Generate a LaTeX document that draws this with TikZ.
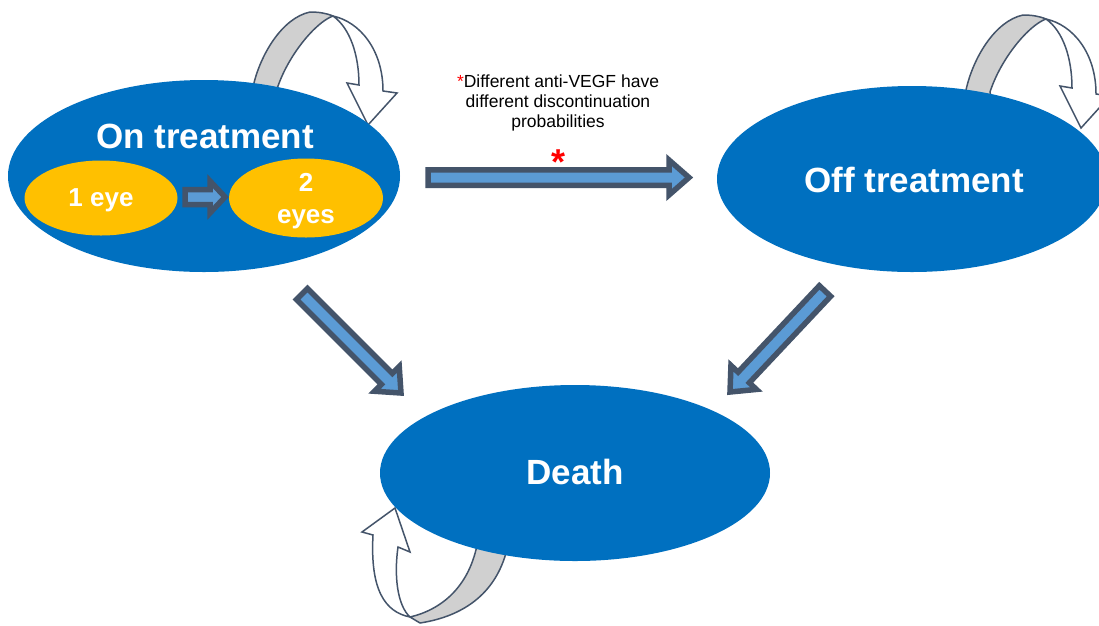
\documentclass[tikz,border=0pt]{standalone}
\usepackage{fontspec}
\setmainfont{Liberation Sans}
\usetikzlibrary{shapes.geometric,calc}
\definecolor{blu}{HTML}{0070C0}
\definecolor{yel}{HTML}{FFC000}
\definecolor{afill}{HTML}{5B9BD5}
\definecolor{aline}{HTML}{44546A}
\definecolor{bandgrey}{HTML}{D0D0D0}
% block arrow: start, tip, half shaft, half head, head length
\newcommand\blockarrow[5]{%
  \coordinate (#1-#2-h) at ($(#2)!#5!(#1)$);
  \draw[barrow] ($(#1)!#3!90:(#2)$) -- ($(#1-#2-h)!#3!90:(#2)$) -- ($(#1-#2-h)!#4!90:(#2)$)
     -- (#2) -- ($(#1-#2-h)!#4!-90:(#2)$) -- ($(#1-#2-h)!#3!-90:(#2)$) -- ($(#1)!#3!-90:(#2)$) -- cycle;}
\begin{document}
\begin{tikzpicture}[x=1pt,y=-1pt,
  blob/.style={ellipse, fill=blu, draw=none, inner sep=0pt},
  eyeblob/.style={ellipse, fill=yel, draw=none, inner sep=0pt},
  big/.style={text=white, font=\bfseries\fontsize{35}{40}\selectfont, anchor=base, inner sep=0pt},
  mid/.style={text=white, font=\bfseries\fontsize{26}{31}\selectfont, anchor=base, inner sep=0pt},
  note/.style={font=\fontsize{17.5}{20}\selectfont, anchor=base, inner sep=0pt},
  barrow/.style={fill=afill, draw=aline, line width=5.5pt, line join=miter},
  loopband/.style={fill=bandgrey, draw=aline, line width=1.5pt, line join=round},
  loopfront/.style={fill=white, draw=aline, line width=1.5pt, line join=miter},
  curloop/.pic={
    \draw[loopband] (256,105) -- (253,87) .. controls (260,55) and (282,18) .. (310,12)
       .. controls (318,12) and (326,13) .. (333,16)
       .. controls (316,22) and (288,55) .. (277,89) -- (280,105) -- cycle;
    \draw[loopfront] (333,16) .. controls (360,22) and (383,50) .. (383,91) -- (397,93)
       -- (368,125) -- (347,83) -- (359,85) .. controls (359,55) and (350,28) .. (333,16) -- cycle;
  }]
\useasboundingbox (0,0) rectangle (1099,625);
\clip (0,0) rectangle (1099,625);
\fill[white] (0,0) rectangle (1099,625);

% self loops (drawn first, ellipses cover their feet)
\pic at (0,0) {curloop};
\pic at (713,3) {curloop};
\draw[loopband] (410,617) -- (420,623) .. controls (465,616) and (498,592) .. (508,545)
   -- (478,540) .. controls (470,588) and (440,610) .. (410,617) -- cycle;
\draw[loopfront] (410,617) .. controls (385,612) and (370,590) .. (373,535) -- (362,532)
   -- (395,508) -- (410,552) -- (398,547) .. controls (394,575) and (397,605) .. (410,617) -- cycle;

% states
\node[blob, minimum width=392pt, minimum height=192pt] (on) at (204,176) {};
\node[blob, minimum width=390pt, minimum height=186pt] (off) at (912,179) {};
\node[blob, minimum width=390pt, minimum height=176pt] (death) at (575,473) {};
\node[eyeblob, minimum width=153pt, minimum height=75pt] (one) at (101,198) {};
\node[eyeblob, minimum width=154pt, minimum height=79pt] (two) at (306,198) {};

\node[big] (ontxt) at (205,148) {On treatment};
\node[big] (offtxt) at (914,192) {Off treatment};
\node[big] (deathtxt) at (575,484) {Death};
\node[mid] (onetxt) at (101,206) {1 eye};
\node[mid] (twotxt) at (306,191) {2};
\node[mid] (eyestxt) at (306,223) {eyes};

% transitions
\coordinate (sA) at (185,197); \coordinate (sB) at (225,197);
\blockarrow{sA}{sB}{7.5pt}{16pt}{15pt}
\coordinate (hA) at (428,177.5); \coordinate (hB) at (689,177.5);
\blockarrow{hA}{hB}{7.75pt}{17.5pt}{20pt}
\coordinate (dA) at (302,294); \coordinate (dB) at (401,393);
\blockarrow{dA}{dB}{7.75pt}{17.5pt}{20pt}
\coordinate (eA) at (825,291); \coordinate (eB) at (730,392);
\blockarrow{eA}{eB}{7.75pt}{17.5pt}{20pt}

% annotation
\node[note] (ann1) at (558,87) {\textcolor{red}{*}Different anti-VEGF have};
\node[note] (ann2) at (558,107) {different discontinuation};
\node[note] (ann3) at (558,127) {probabilities};
\node[text=red, font=\bfseries\fontsize{36}{36}\selectfont, anchor=base, inner sep=0pt] (star) at (558,174) {*};
\end{tikzpicture}
\end{document}
